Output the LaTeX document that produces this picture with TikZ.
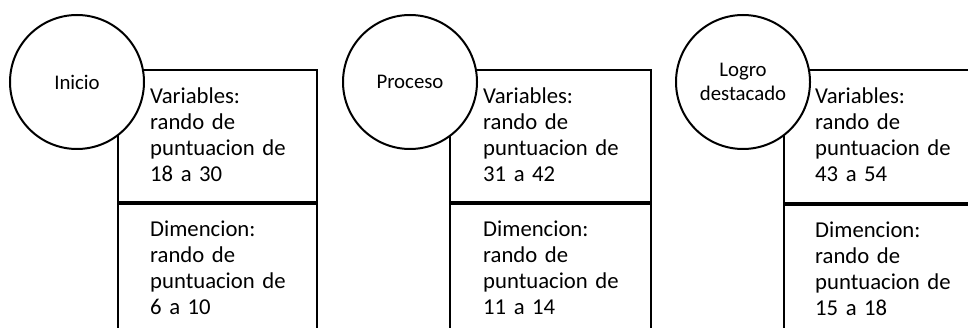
\documentclass[tikz,border=0pt]{standalone}
\usepackage{fontspec}
\setmainfont{Carlito}
\begin{document}
\begin{tikzpicture}[x=1pt,y=-1pt,
  boxpart/.style={draw, line width=2pt, rectangle, inner sep=0pt, anchor=north west},
  stage/.style={draw, line width=2pt, circle, fill=white, minimum size=134pt, inner sep=0pt,
    align=center, font=\fontsize{20.8}{24}\selectfont},
  boxtext/.style={inner sep=0pt, anchor=base west, text width=170pt, align=left,
    font=\fontsize{22.7}{26}\selectfont}]
\useasboundingbox (0,0) rectangle (968,328);
\clip (0,0) rectangle (968,328);
% panel 1
\node[boxpart, minimum width=199pt, minimum height=132pt] (v1) at (117,69) {};
\node[boxpart, minimum width=199pt, minimum height=160pt] (d1) at (v1.south west) {};
\node[boxtext] (tv1) at (150,104) {Variables:\\rando de\\puntuacion de\\18 a 30};
\node[boxtext] (td1) at (150,237) {Dimencion:\\rando de\\puntuacion de\\6 a 10};
\node[stage] (c1) at (77,82) {Inicio};
% panel 2
\node[boxpart, minimum width=201pt, minimum height=132pt] (v2) at (449,69) {};
\node[boxpart, minimum width=201pt, minimum height=160pt] (d2) at (v2.south west) {};
\node[boxtext] (tv2) at (483,104) {Variables:\\rando de\\puntuacion de\\31 a 42};
\node[boxtext] (td2) at (483,237) {Dimencion:\\rando de\\puntuacion de\\11 a 14};
\node[stage] (c2) at (410,82) {Proceso};
% panel 3
\node[boxpart, minimum width=210pt, minimum height=133pt] (v3) at (783,69) {};
\node[boxpart, minimum width=210pt, minimum height=160pt] (d3) at (v3.south west) {};
\node[boxtext] (tv3) at (815,104) {Variables:\\rando de\\puntuacion de\\43 a 54};
\node[boxtext] (td3) at (815,238) {Dimencion:\\rando de\\puntuacion de\\15 a 18};
\node[stage] (c3) at (743,82) {Logro\\destacado};
\end{tikzpicture}
\end{document}
